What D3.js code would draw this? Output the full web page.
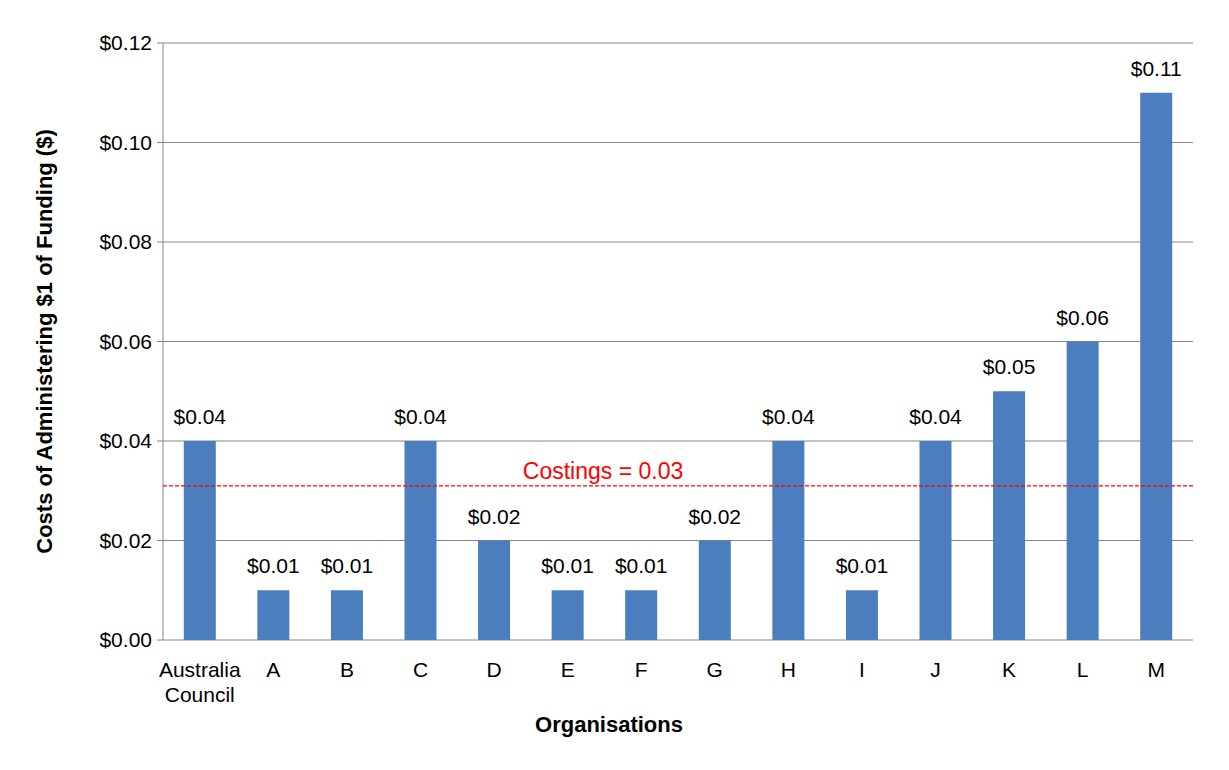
<!DOCTYPE html>
<html><head><meta charset="utf-8">
<script src="https://cdn.jsdelivr.net/npm/d3@7/dist/d3.min.js"></script>
<style>body{margin:0;background:#fff}text{font-family:"Liberation Sans",Arial,sans-serif}</style>
</head><body><svg id="c" width="1229" height="770"></svg>
<script>
const categories=["Australia\nCouncil","A","B","C","D","E","F","G","H","I","J","K","L","M"];
const values=[0.04,0.01,0.01,0.04,0.02,0.01,0.01,0.02,0.04,0.01,0.04,0.05,0.06,0.11];
const yTicks=[0,0.02,0.04,0.06,0.08,0.10,0.12];
const refValue=0.031;
const refLabel="Costings = 0.03";

const svg=d3.select("#c");
const L=163,R=1193,T=43,B=640;
const x=d3.scaleBand().domain(categories).range([L,R]).paddingInner(0.565).paddingOuter(0.2825);
const y=d3.scaleLinear().domain([0,0.12]).range([B,T]);
const fmt=v=>"$"+v.toFixed(2);
const FS=21;

svg.append("g").selectAll("line").data(yTicks).join("line")
 .attr("x1",L).attr("x2",R).attr("y1",d=>y(d)).attr("y2",d=>y(d)).attr("stroke","#868686").attr("stroke-width",1);
svg.append("line").attr("x1",L).attr("x2",L).attr("y1",T).attr("y2",B).attr("stroke","#868686");
svg.append("g").selectAll("line").data(yTicks).join("line")
 .attr("x1",L-6).attr("x2",L).attr("y1",d=>y(d)).attr("y2",d=>y(d)).attr("stroke","#868686");
svg.append("g").selectAll("text").data(yTicks).join("text")
 .attr("x",L-11).attr("y",d=>y(d)).attr("dy","0.35em").attr("text-anchor","end").attr("font-size",FS).text(fmt);

svg.append("g").selectAll("rect").data(values).join("rect")
 .attr("x",(d,i)=>x(categories[i])).attr("width",x.bandwidth())
 .attr("y",d=>y(d)).attr("height",d=>B-y(d)).attr("fill","#4A7EBF");
svg.append("g").selectAll("text").data(values).join("text")
 .attr("x",(d,i)=>x(categories[i])+x.bandwidth()/2).attr("y",d=>y(d)-17)
 .attr("text-anchor","middle").attr("font-size",FS).text(fmt);

const xl=svg.append("g").selectAll("text").data(categories).join("text")
 .attr("x",d=>x(d)+x.bandwidth()/2).attr("y",677).attr("text-anchor","middle").attr("font-size",FS);
xl.each(function(d){const t=d3.select(this);d.split("\n").forEach((s,k)=>t.append("tspan").attr("x",x(d)+x.bandwidth()/2).attr("dy",k?25:0).text(s));});

svg.append("line").attr("x1",L).attr("x2",R).attr("y1",y(refValue)).attr("y2",y(refValue))
 .attr("stroke","#FF0000").attr("stroke-width",1.3).attr("stroke-dasharray","4,2");
svg.append("text").attr("x",603).attr("y",y(refValue)-7).attr("text-anchor","middle").attr("font-size",23).attr("fill","#FF0000").text(refLabel);

svg.append("text").attr("x",609).attr("y",732).attr("text-anchor","middle").attr("font-size",22).attr("font-weight","bold").text("Organisations");
svg.append("text").attr("transform",`translate(52,${(T+B)/2}) rotate(-90)`).attr("text-anchor","middle").attr("font-size",22).attr("font-weight","bold").text("Costs of Administering $1 of Funding ($)");
</script></body></html>
